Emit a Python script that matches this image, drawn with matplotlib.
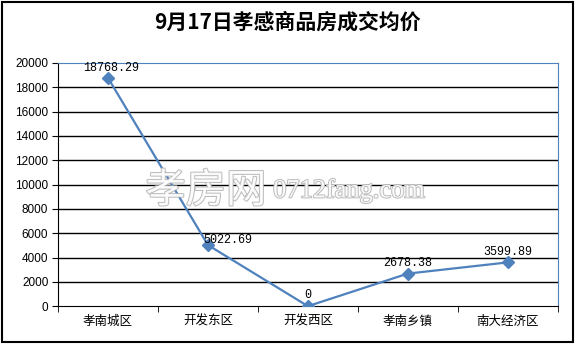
import matplotlib.pyplot as plt
import matplotlib.patheffects as pe
import numpy as np

# data
districts = ['孝南城区', '开发东区', '开发西区', '孝南乡镇', '南大经济区']
prices = [18768.29, 5022.69, 0, 2678.38, 3599.89]
price_labels = ['18768.29', '5022.69', '0', '2678.38', '3599.89']
title = '9月17日孝感商品房成交均价'

plt.rcParams['font.family'] = ['Noto Sans CJK SC', 'DejaVu Sans']

fig = plt.figure(figsize=(5.75, 3.44), dpi=100)
ax = fig.add_axes([0.101, 0.110, 0.869, 0.707])

x = np.arange(len(districts))
blue = '#4F81BD'

# horizontal grid
ax.set_ylim(0, 20000)
ax.set_yticks(np.arange(0, 20001, 2000))
for y in np.arange(2000, 20000, 2000):
    ax.axhline(y, color='black', lw=1, zorder=1)

ax.plot(x, prices, color=blue, lw=1.6, marker='D', ms=6.5, zorder=3)

# data labels
offsets = [(2, 3), (14, -1), (0, 4), (0, 3), (0, 3)]
for xi, yi, lab, off in zip(x, prices, price_labels, offsets):
    ax.annotate(lab, (xi, yi), xytext=off, textcoords='offset points',
                ha='center', va='bottom', fontsize=8.5,
                family=['Liberation Mono', 'DejaVu Sans'])

ax.set_xlim(-0.5, len(districts) - 0.5)
ax.set_xticks(x)
ax.set_xticklabels(districts, fontsize=9)
ax.set_xticks(np.arange(-0.5, len(districts)), minor=True)
ax.tick_params(axis='x', which='major', length=0, pad=6)
ax.tick_params(axis='x', which='minor', length=4, color='black')
ax.tick_params(axis='y', length=4, labelsize=8.5, pad=3)
for lab in ax.get_yticklabels():
    lab.set_family(['Liberation Sans', 'DejaVu Sans'])

ax.spines['top'].set_color(blue)
ax.spines['right'].set_color(blue)
ax.spines['left'].set_color('black')
ax.spines['bottom'].set_color('black')

# watermark
wm = [pe.withStroke(linewidth=1.4, foreground='#B4B4B4')]
fig.text(0.358, 0.445, '孝房网', fontsize=29, color='white', ha='center',
         va='center', path_effects=wm, alpha=0.9, zorder=2)
fig.text(0.607, 0.445, '0712fang.com', fontsize=19, color='white',
         ha='center', va='center', path_effects=wm, alpha=0.9,
         family=['Liberation Serif', 'DejaVu Serif'], zorder=2)

fig.text(0.5, 0.935, title, fontsize=15, fontweight='bold', ha='center',
         va='center')

# outer border
fig.patches.append(plt.Rectangle((0.004, 0.006), 0.992, 0.988,
                                 transform=fig.transFigure, fill=False,
                                 edgecolor='black', lw=1.5))

fig.savefig('out.png', dpi=100)
